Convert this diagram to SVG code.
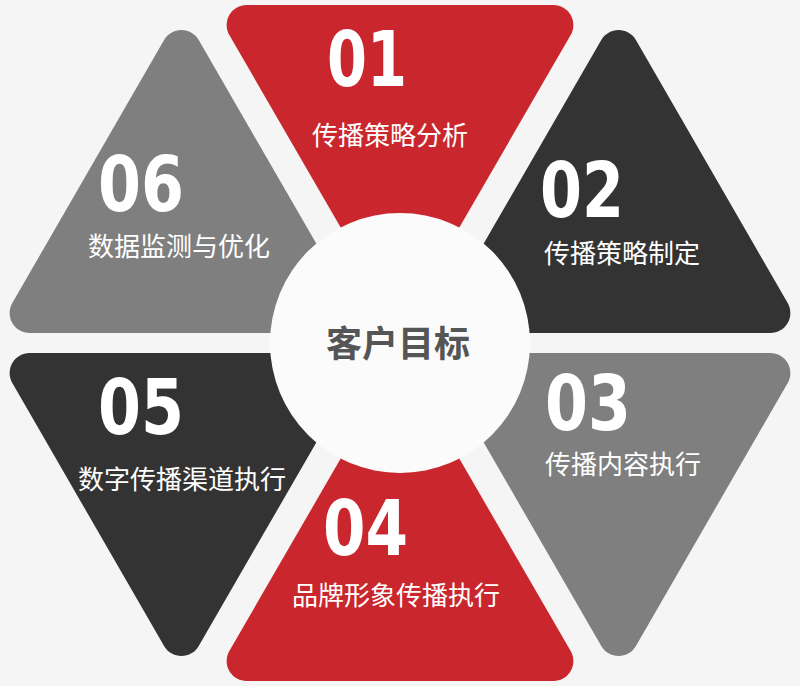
<svg xmlns="http://www.w3.org/2000/svg" width="800" height="686" viewBox="0 0 800 686">
<style>
.red{fill:#c9272d}
.dark{fill:#333333}
.gray{fill:#7f7f7f}
.num{font-family:'DejaVu Sans Condensed','DejaVu Sans',sans-serif;font-stretch:condensed;font-weight:bold;font-size:76px;fill:#ffffff}
.lbl{font-family:'Noto Sans CJK SC','Noto Sans',sans-serif;font-size:26px;fill:#ffffff;text-anchor:middle}
.ctr{font-family:'Noto Sans CJK SC','Noto Sans',sans-serif;font-size:36px;font-weight:bold;fill:#555555;text-anchor:middle}
</style>
<rect x="0" y="0" width="800" height="686" fill="#f5f5f5"/>
<g id="node-01">
<path class="red" d="M246.64 5 L553.36 5 A20 20 0 0 1 570.68 35 L400 330 L229.32 35 A20 20 0 0 1 246.64 5 Z"/>
<text class="num" x="327" y="86" textLength="80" lengthAdjust="spacingAndGlyphs">01</text>
<text class="lbl" x="390" y="145">传播策略分析</text>
</g>
<g id="node-02">
<path class="dark" d="M432 333 L601.28 40 A20 20 0 0 1 635.92 40 L787.68 303 A20 20 0 0 1 770.36 333 Z"/>
<text class="num" x="540" y="217" textLength="84" lengthAdjust="spacingAndGlyphs">02</text>
<text class="lbl" x="622" y="263">传播策略制定</text>
</g>
<g id="node-03">
<path class="gray" d="M432 353 L601.28 646 A20 20 0 0 0 635.92 646 L787.68 383 A20 20 0 0 0 770.36 353 Z"/>
<text class="num" x="545" y="430" textLength="86" lengthAdjust="spacingAndGlyphs">03</text>
<text class="lbl" x="623" y="474">传播内容执行</text>
</g>
<g id="node-04">
<path class="red" d="M246.64 681 L553.36 681 A20 20 0 0 0 570.68 651 L400 356 L229.32 651 A20 20 0 0 0 246.64 681 Z"/>
<text class="num" x="323" y="555" textLength="85" lengthAdjust="spacingAndGlyphs">04</text>
<text class="lbl" x="396" y="605">品牌形象传播执行</text>
</g>
<g id="node-05">
<path class="dark" d="M368 353 L198.72 646 A20 20 0 0 1 164.08 646 L12.32 383 A20 20 0 0 1 29.64 353 Z"/>
<text class="num" x="98" y="434" textLength="86" lengthAdjust="spacingAndGlyphs">05</text>
<text class="lbl" x="182" y="489">数字传播渠道执行</text>
</g>
<g id="node-06">
<path class="gray" d="M368 333 L198.72 40 A20 20 0 0 0 164.08 40 L12.32 303 A20 20 0 0 0 29.64 333 Z"/>
<text class="num" x="98" y="211" textLength="86" lengthAdjust="spacingAndGlyphs">06</text>
<text class="lbl" x="179" y="256">数据监测与优化</text>
</g>
<g id="center">
<circle cx="400" cy="343" r="130" fill="#fbfbfb"/>
<text class="ctr" x="398" y="357">客户目标</text>
</g>
<g id="connectors"></g>
</svg>
